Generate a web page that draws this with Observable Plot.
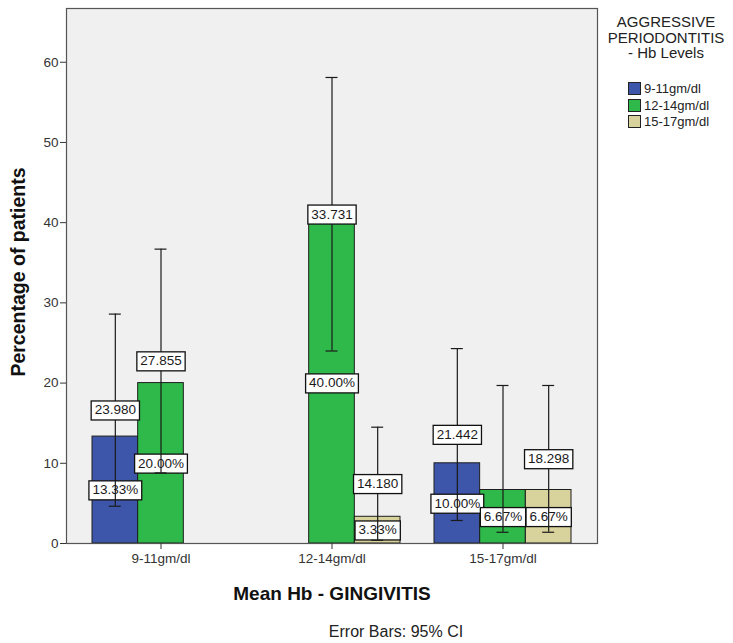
<!DOCTYPE html>
<html><head><meta charset="utf-8">
<script src="https://cdn.jsdelivr.net/npm/d3@7"></script>
<script src="https://cdn.jsdelivr.net/npm/@observablehq/plot@0.6"></script>
<style>
body{margin:0;background:#fff;font-family:"Liberation Sans",Arial,sans-serif;}
#wrap{position:relative;width:733px;height:643px;overflow:hidden;}
#chart{position:absolute;left:0;top:0;}
#ylabel{position:absolute;left:18px;top:272px;transform:translate(-50%,-50%) rotate(-90deg);font-weight:bold;font-size:19.5px;color:#111;white-space:nowrap;}
#xlabel{position:absolute;left:332px;top:594px;transform:translate(-50%,-50%);font-weight:bold;font-size:19px;color:#111;white-space:nowrap;}
#caption{position:absolute;left:396px;top:632px;transform:translate(-50%,-50%);font-size:16px;color:#222;white-space:nowrap;}
#legend{position:absolute;left:604px;top:14px;width:124px;color:#222;}
#legend .title{text-align:center;font-size:15px;line-height:15.5px;}
#legend .item{display:flex;align-items:center;font-size:13px;height:16.5px;margin-left:24px;}
#legend .sw{width:11px;height:11px;border:1px solid #222;margin-right:3px;}
</style></head><body>
<div id="wrap">
  <div id="chart"></div>
  <div id="ylabel">Percentage of patients</div>
  <div id="xlabel">Mean Hb - GINGIVITIS</div>
  <div id="caption">Error Bars: 95% CI</div>
  <div id="legend"><div class="title">AGGRESSIVE<br>PERIODONTITIS<br>- Hb Levels</div><div id="items" style="margin-top:20px"></div></div>
</div>
<script>
// categories on x axis (Mean Hb - GINGIVITIS)
const categories = ["9-11gm/dl", "12-14gm/dl", "15-17gm/dl"];
// series (AGGRESSIVE PERIODONTITIS - Hb Levels)
const seriesNames = ["9-11gm/dl", "12-14gm/dl", "15-17gm/dl"];
const seriesColors = ["#3d56a9", "#2fb94a", "#d8d29c"];
// percentage of patients per category, one array per series
const values9_11 = [13.33, null, 10.00];
const values12_14 = [20.00, 40.00, 6.67];
const values15_17 = [null, 3.33, 6.67];
// 95% CI lower / upper bounds
const low9_11 = [4.65, null, 2.87];
const low12_14 = [8.8, 24.0, 1.4];
const low15_17 = [null, 0.4, 1.4];
const high9_11 = [28.6, null, 24.3];
const high12_14 = [36.7, 58.1, 19.7];
const high15_17 = [null, 14.5, 19.7];
// secondary value labels
const stat9_11 = ["23.980", null, "21.442"];
const stat12_14 = ["27.855", "33.731", null];
const stat15_17 = [null, "14.180", "18.298"];
const yTicks = [0, 10, 20, 30, 40, 50, 60];

const vals = [values9_11, values12_14, values15_17];
const lows = [low9_11, low12_14, low15_17];
const highs = [high9_11, high12_14, high15_17];
const stats = [stat9_11, stat12_14, stat15_17];

const rows = [];
seriesNames.forEach((s, si) => categories.forEach((c, ci) => {
  if (vals[si][ci] != null) rows.push({cat: c, series: s, si, value: vals[si][ci], lo: lows[si][ci], hi: highs[si][ci], stat: stats[si][ci]});
}));
const pctText = r => r.value.toFixed(2) + "%";
const boxedTexts = new Set([...rows.map(pctText), ...rows.filter(r => r.stat).map(r => r.stat)]);

const W = 733, H = 643, mL = 66, mR = 136, mT = 8, mB = 100;
const pInner = 0.2, pOuter = 0.15;
const step = (W - mL - mR) / (categories.length - pInner + 2 * pOuter);
const bw = step * (1 - pInner);
const slot = bw / seriesNames.length;
const capW = 12;
const capInset = (slot - capW) / 2;

const font = 13.5;
const marks = [Plot.frame({fill: "#f0f0f0"})];
seriesNames.forEach((s, si) => {
  const d = rows.filter(r => r.si === si);
  marks.push(Plot.barY(d, {x: "cat", y: "value", fill: seriesColors[si], stroke: "#1e1e1e", strokeWidth: 1,
    insetLeft: si * slot, insetRight: (2 - si) * slot}));
});
seriesNames.forEach((s, si) => {
  const d = rows.filter(r => r.si === si);
  marks.push(Plot.text(d, {x: "cat", y: r => r.value / 2, text: pctText, dx: (si - 1) * slot,
    fontSize: font, fill: "#1a1a1a"}));
});
seriesNames.forEach((s, si) => {
  const d = rows.filter(r => r.si === si);
  marks.push(Plot.ruleX(d, {x: "cat", y1: "lo", y2: "hi", dx: (si - 1) * slot, stroke: "#1a1a1a", strokeWidth: 1.2}));
  const ins = {insetLeft: si * slot + capInset, insetRight: (2 - si) * slot + capInset};
  marks.push(Plot.tickY(d, {x: "cat", y: "lo", stroke: "#1a1a1a", strokeWidth: 1.2, ...ins}));
  marks.push(Plot.tickY(d, {x: "cat", y: "hi", stroke: "#1a1a1a", strokeWidth: 1.2, ...ins}));
});
seriesNames.forEach((s, si) => {
  const d = rows.filter(r => r.si === si && r.stat);
  marks.push(Plot.text(d, {x: "cat", y: r => (r.lo + r.hi) / 2, text: "stat", dx: (si - 1) * slot,
    fontSize: font, fill: "#1a1a1a"}));
});
marks.push(Plot.frame({stroke: "#555", strokeWidth: 1.2}));
marks.push(Plot.axisY({ticks: yTicks, tickSize: 6, tickPadding: 2, fontSize: 13.5, color: "#333", label: null}));
marks.push(Plot.axisX({tickSize: 6, tickPadding: 4, fontSize: 13.5, color: "#333", label: null}));

const chart = Plot.plot({
  width: W, height: H, marginLeft: mL, marginRight: mR, marginTop: mT, marginBottom: mB,
  style: {fontFamily: "'Liberation Sans', Arial, sans-serif", background: "transparent"},
  x: {domain: categories, paddingInner: pInner, paddingOuter: pOuter, label: null},
  y: {domain: [0, 66.7], label: null},
  marks
});
document.getElementById("chart").append(chart);

// white boxes with border behind value labels
chart.querySelectorAll("text").forEach(t => {
  if (!boxedTexts.has(t.textContent)) return;
  if (t.closest('g[aria-label*="axis"]')) return;
  const b = t.getBBox();
  const r = document.createElementNS("http://www.w3.org/2000/svg", "rect");
  r.setAttribute("x", b.x - 3.5);
  r.setAttribute("y", b.y - 1.5);
  r.setAttribute("width", b.width + 7);
  r.setAttribute("height", b.height + 4);
  r.setAttribute("fill", "#fff");
  r.setAttribute("stroke", "#111");
  r.setAttribute("stroke-width", "1.3");
  const tr = t.getAttribute("transform");
  if (tr) r.setAttribute("transform", tr);
  t.parentNode.insertBefore(r, t);
});

// legend
const items = document.getElementById("items");
seriesNames.forEach((s, i) => {
  const it = document.createElement("div");
  it.className = "item";
  it.innerHTML = `<span class="sw" style="background:${seriesColors[i]}"></span><span>${s}</span>`;
  items.append(it);
});
</script>
</body></html>
